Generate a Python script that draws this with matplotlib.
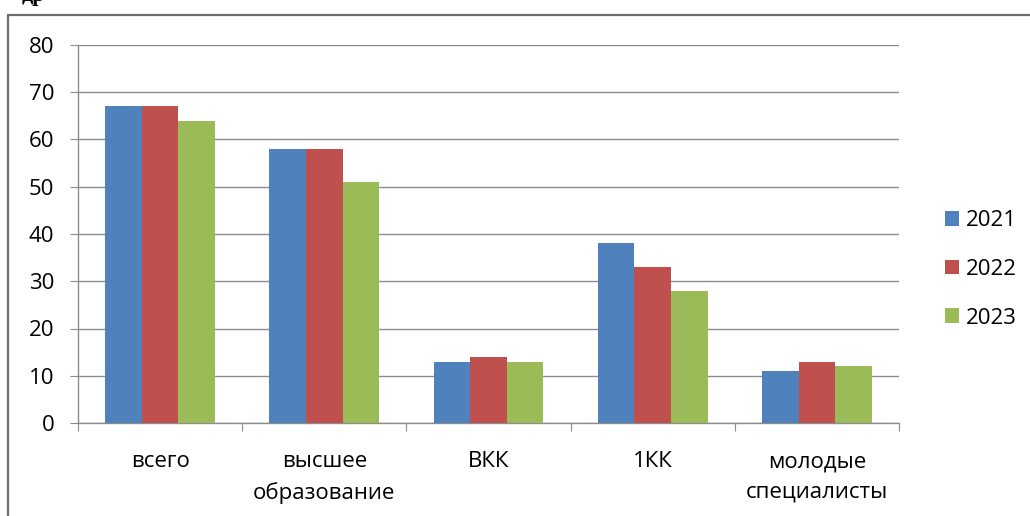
import matplotlib
matplotlib.use("Agg")
import matplotlib.pyplot as plt
from matplotlib.patches import Rectangle
import numpy as np

categories = ["всего", "высшее\nобразование", "ВКК", "1КК", "молодые\nспециалисты"]
series_names = ["2021", "2022", "2023"]
v2021 = [67, 58, 13, 38, 11]
v2022 = [67, 58, 14, 33, 13]
v2023 = [64, 51, 13, 28, 12]
colors = ["#4F81BD", "#C0504D", "#9BBB59"]
yticks = [0, 10, 20, 30, 40, 50, 60, 70, 80]

plt.rcParams['font.family'] = ['Open Sans', 'DejaVu Sans']

fig = plt.figure(figsize=(10.30, 5.16), dpi=100)
ax = fig.add_axes([78/1030, 1 - 423/516, (899-78)/1030, (423-45)/516])

x = np.arange(len(categories))
w = 0.223
for k, (vals, c, name) in enumerate(zip([v2021, v2022, v2023], colors, series_names)):
    ax.bar(x + (k - 1) * w, vals, width=w, color=c, label=name, zorder=3)

ax.set_xlim(-0.5, len(categories) - 0.5)
ax.set_ylim(0, 80)
ax.set_yticks(yticks)
ax.set_yticklabels([str(t) for t in yticks], fontsize=16)
ax.yaxis.grid(True, color="#8C8C8C", linewidth=1.0, zorder=0)
ax.set_axisbelow(True)

ax.set_xticks(np.arange(len(categories) + 1) - 0.5)
ax.set_xticklabels([])
ax.set_xticks(x, minor=True)
ax.set_xticklabels(categories, minor=True, fontsize=16, linespacing=1.57)
ax.tick_params(axis='x', which='major', length=6, color="#8C8C8C", direction='out')
ax.tick_params(axis='x', which='minor', length=0, pad=20.5)
ax.tick_params(axis='y', length=6, color="#8C8C8C", pad=11)

for s in ["top", "right"]:
    ax.spines[s].set_visible(False)
for s in ["left", "bottom"]:
    ax.spines[s].set_color("#8C8C8C")
    ax.spines[s].set_linewidth(1.0)

ax.legend(loc='center left', bbox_to_anchor=(1.032, 0.406), frameon=False,
          fontsize=16, handlelength=0.63, handleheight=0.63, handletextpad=0.3,
          labelspacing=1.24)

# outer border
fig.patches.append(Rectangle((8/1030, -0.05), 1.2, 1 - 15/516 + 0.05,
                             transform=fig.transFigure, fill=False,
                             edgecolor="#6E6E6E", linewidth=1.6))
fig.text(22/1030, 1.008, "др", family=['Liberation Serif', 'DejaVu Serif'],
         fontweight='bold', fontsize=16, va='center', ha='left')

fig.savefig("out.png", dpi=100, facecolor="white")
